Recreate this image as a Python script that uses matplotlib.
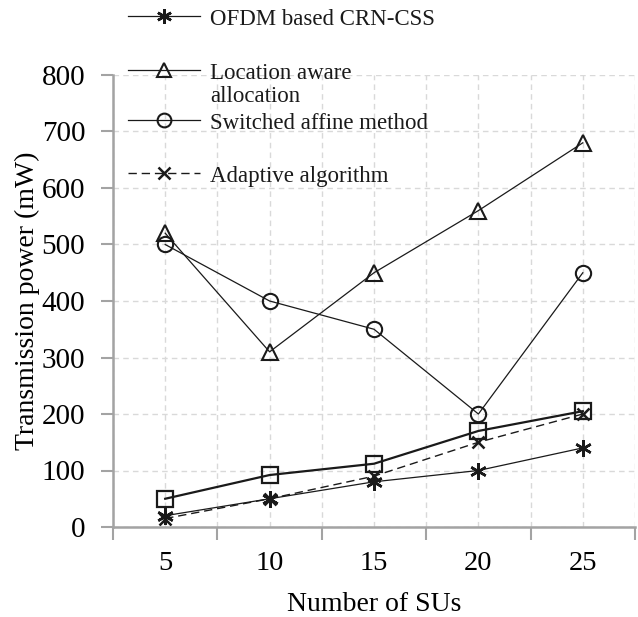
import matplotlib
matplotlib.use("Agg")
import matplotlib.pyplot as plt
from matplotlib.lines import Line2D

plt.rcParams["font.family"] = ["Liberation Serif", "DejaVu Serif"]

# data
num_sus = [5, 10, 15, 20, 25]
ofdm_crn_css = [20, 50, 80, 100, 140]
location_aware = [520, 310, 450, 560, 680]
switched_affine = [500, 400, 350, 200, 450]
adaptive = [15, 50, 90, 150, 200]
unlabelled = [50, 92, 112, 170, 205]
y_ticks = [0, 100, 200, 300, 400, 500, 600, 700, 800]

legend_labels = ["OFDM based CRN-CSS", "Location aware\nallocation",
                 "Switched affine method", "Adaptive algorithm"]

ink = "#1a1a1a"
axis_grey = "#a3a3a3"
grid_grey = "#d9d9d9"

star = (6, 2, 0)
styles = {
    "ofdm": dict(marker=star, ms=12, mew=1.8, ls="-", lw=0.9),
    "loc": dict(marker="^", ms=11, mew=1.5, ls="-", lw=0.9, mfc="none"),
    "sw": dict(marker="o", ms=11, mew=1.5, ls="-", lw=0.9, mfc="none"),
    "ad": dict(marker="x", ms=9, mew=1.8, ls=(0, (6, 3.5)), lw=1.0),
    "un": dict(marker="s", ms=11.5, mew=1.6, ls="-", lw=1.6, mfc="none"),
}

fig = plt.figure(figsize=(6.38, 6.17), dpi=100)
ax = fig.add_axes([113 / 638, 1 - 527 / 617, (635 - 113) / 638, (527 - 75) / 617])

xs = list(range(len(num_sus)))
ax.plot(xs, location_aware, color=ink, **styles["loc"])
ax.plot(xs, switched_affine, color=ink, **styles["sw"])
ax.plot(xs, unlabelled, color=ink, **styles["un"])
ax.plot(xs, adaptive, color=ink, **styles["ad"])
ax.plot(xs, ofdm_crn_css, color=ink, **styles["ofdm"])

ax.set_xlim(-0.5, len(num_sus) - 0.5)
ax.set_ylim(0, 800)
ax.set_xticks(xs)
ax.set_xticklabels([str(n) for n in num_sus])
ax.set_xticks([i - 0.5 for i in range(len(num_sus) + 1)], minor=True)
ax.set_yticks(y_ticks)

ax.tick_params(axis="x", which="major", length=0, pad=17, labelsize=20.5)
ax.tick_params(axis="x", which="minor", length=9, width=1.5, color=axis_grey)
ax.tick_params(axis="y", length=9, width=1.5, color=axis_grey, pad=11, labelsize=21)

ax.grid(True, axis="x", which="both", color=grid_grey, ls=(0, (4, 3)), lw=1)
ax.grid(True, axis="y", which="major", color=grid_grey, ls=(0, (4, 3)), lw=1)
ax.set_axisbelow(True)

for s in ["top", "right"]:
    ax.spines[s].set_visible(False)
for s in ["left", "bottom"]:
    ax.spines[s].set_color(axis_grey)
    ax.spines[s].set_linewidth(1.8)

ax.set_xlabel("Number of SUs", fontsize=20, labelpad=12)
ax.set_ylabel("Transmission power (mW)", fontsize=20, labelpad=1)

# hand-placed legend, the reference keeps the two-line entry tight
rows_px = [16, 70, 120, 173]
keys = ["ofdm", "loc", "sw", "ad"]
x0, x1, xt = 128 / 638, 200 / 638, 210 / 638
for key, label, ypx in zip(keys, legend_labels, rows_px):
    y = 1 - ypx / 617
    st = dict(styles[key])
    marker = st.pop("marker")
    ms = st.pop("ms")
    mew = st.pop("mew")
    mfc = st.pop("mfc", ink)
    fig.add_artist(Line2D([x0, x1], [y, y], transform=fig.transFigure,
                          color=ink, ls=st["ls"], lw=st["lw"]))
    fig.add_artist(Line2D([(x0 + x1) / 2], [y], transform=fig.transFigure,
                          color=ink, ls="none", marker=marker, ms=ms * 0.9,
                          mew=mew, mfc=mfc))
    fig.text(xt, 1 - (ypx - 7) / 617, label, fontsize=16.5, va="top",
             ha="left", color=ink, linespacing=1.1)

fig.savefig("out.png", dpi=100)
